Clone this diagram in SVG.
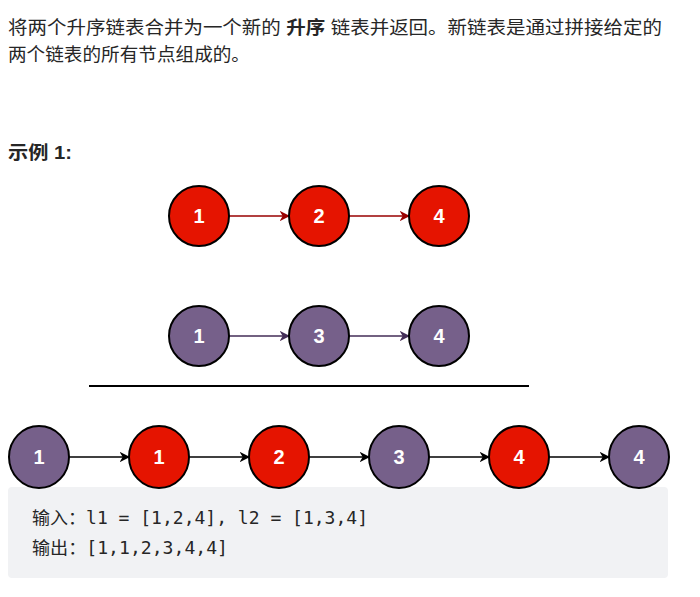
<svg xmlns="http://www.w3.org/2000/svg" width="700" height="597" viewBox="0 0 700 597">
<style>
.t{font-family:"Liberation Sans","Noto Sans CJK SC",sans-serif;font-size:18.5px;fill:#262626}
.c{font-family:"DejaVu Sans Mono","Noto Sans CJK SC",monospace;font-size:17px;fill:#262626}
.r{fill:#e51400;stroke:#000;stroke-width:2}
.p{fill:#76608a;stroke:#000;stroke-width:2}
.n{font-family:"Liberation Sans",sans-serif;font-size:20px;font-weight:bold;fill:#fff;text-anchor:middle}
.e{fill:none;stroke-width:1.5}
</style>
<defs>
<marker id="ar" viewBox="0 0 10 10" refX="9" refY="5" markerWidth="7" markerHeight="7" orient="auto"><path d="M0,0L10,5L0,10L3,5z" fill="#990000"/></marker>
<marker id="ap" viewBox="0 0 10 10" refX="9" refY="5" markerWidth="7" markerHeight="7" orient="auto"><path d="M0,0L10,5L0,10L3,5z" fill="#432d57"/></marker>
<marker id="ab" viewBox="0 0 10 10" refX="9" refY="5" markerWidth="7" markerHeight="7" orient="auto"><path d="M0,0L10,5L0,10L3,5z" fill="#000"/></marker>
</defs>
<text class="t" x="8" y="34" textLength="654" lengthAdjust="spacingAndGlyphs">将两个升序链表合并为一个新的 <tspan font-weight="bold">升序</tspan> 链表并返回。新链表是通过拼接给定的</text>
<text class="t" x="8" y="61" textLength="242" lengthAdjust="spacingAndGlyphs">两个链表的所有节点组成的。</text>
<text class="t" x="8" y="159" font-weight="bold" textLength="64" lengthAdjust="spacingAndGlyphs">示例 1:</text>
<line x1="89" y1="386" x2="529" y2="386" stroke="#000" stroke-width="2"/>
<rect x="8" y="487" width="660" height="91" rx="4" fill="#f1f2f4"/>
<text class="c" x="32" y="524" textLength="336" lengthAdjust="spacingAndGlyphs">输入：l1 = [1,2,4], l2 = [1,3,4]</text>
<text class="c" x="32" y="554" textLength="196" lengthAdjust="spacingAndGlyphs">输出：[1,1,2,3,4,4]</text>
<g id="connectors">
<line class="e" stroke="#990000" x1="229" y1="216" x2="289" y2="216" marker-end="url(#ar)"/>
<line class="e" stroke="#990000" x1="349" y1="216" x2="409" y2="216" marker-end="url(#ar)"/>
<line class="e" stroke="#432d57" x1="229" y1="336" x2="289" y2="336" marker-end="url(#ap)"/>
<line class="e" stroke="#432d57" x1="349" y1="336" x2="409" y2="336" marker-end="url(#ap)"/>
<line class="e" stroke="#000" x1="69" y1="457" x2="129" y2="457" marker-end="url(#ab)"/>
<line class="e" stroke="#000" x1="189" y1="457" x2="249" y2="457" marker-end="url(#ab)"/>
<line class="e" stroke="#000" x1="309" y1="457" x2="369" y2="457" marker-end="url(#ab)"/>
<line class="e" stroke="#000" x1="429" y1="457" x2="489" y2="457" marker-end="url(#ab)"/>
<line class="e" stroke="#000" x1="549" y1="457" x2="609" y2="457" marker-end="url(#ab)"/>
</g>
<g id="a1"><circle class="r" cx="199" cy="216" r="30"/><text class="n" x="199" y="223">1</text></g>
<g id="a2"><circle class="r" cx="319" cy="216" r="30"/><text class="n" x="319" y="223">2</text></g>
<g id="a4"><circle class="r" cx="439" cy="216" r="30"/><text class="n" x="439" y="223">4</text></g>
<g id="b1"><circle class="p" cx="199" cy="336" r="30"/><text class="n" x="199" y="343">1</text></g>
<g id="b3"><circle class="p" cx="319" cy="336" r="30"/><text class="n" x="319" y="343">3</text></g>
<g id="b4"><circle class="p" cx="439" cy="336" r="30"/><text class="n" x="439" y="343">4</text></g>
<g id="m1"><ellipse class="p" cx="39" cy="457" rx="30" ry="31"/><text class="n" x="39" y="464">1</text></g>
<g id="m2"><ellipse class="r" cx="159" cy="457" rx="30" ry="31"/><text class="n" x="159" y="464">1</text></g>
<g id="m3"><ellipse class="r" cx="279" cy="457" rx="30" ry="31"/><text class="n" x="279" y="464">2</text></g>
<g id="m4"><ellipse class="p" cx="399" cy="457" rx="30" ry="31"/><text class="n" x="399" y="464">3</text></g>
<g id="m5"><ellipse class="r" cx="519" cy="457" rx="30" ry="31"/><text class="n" x="519" y="464">4</text></g>
<g id="m6"><ellipse class="p" cx="639" cy="457" rx="30" ry="31"/><text class="n" x="639" y="464">4</text></g>
</svg>
